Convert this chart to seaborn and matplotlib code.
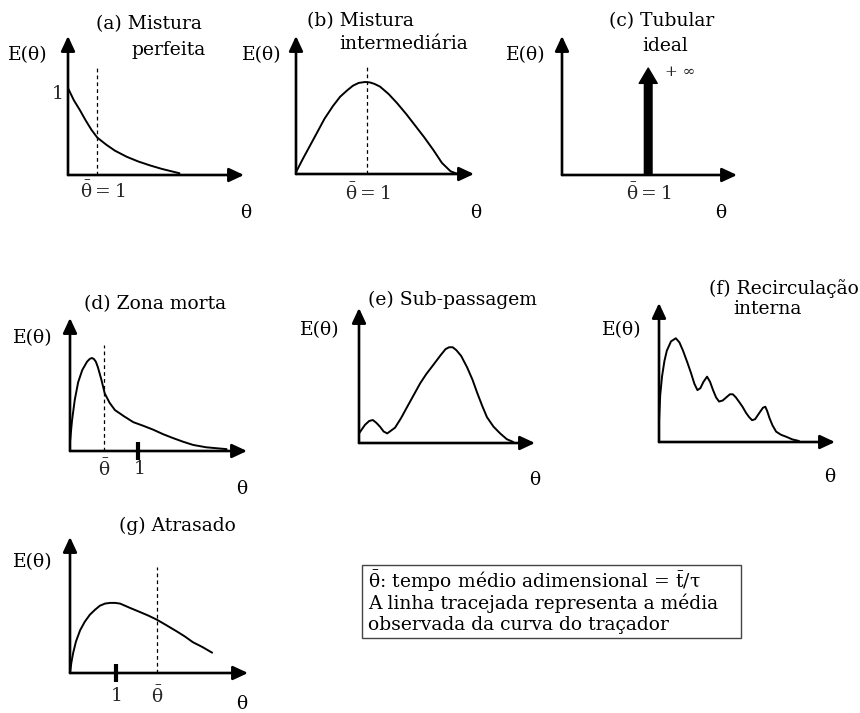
import matplotlib
matplotlib.use("Agg")
import matplotlib.pyplot as plt
from matplotlib.patches import Rectangle
import pandas as pd
import seaborn as sns

# ---- residence-time distribution curves E(theta) ----
theta_a = [0.0, 0.2, 0.4, 0.6, 0.8, 1.0, 1.3, 1.6, 2.0, 2.4, 2.8, 3.2, 3.5, 3.8]
e_a = [1.0, 0.86, 0.75, 0.63, 0.52, 0.43, 0.35, 0.28, 0.21, 0.155, 0.11, 0.07, 0.045, 0.02]

theta_b = [0.0, 0.1, 0.24, 0.4, 0.52, 0.62, 0.72, 0.8, 0.88, 0.97, 1.04, 1.1, 1.18, 1.3,
           1.42, 1.55, 1.65, 1.8, 1.93, 2.05, 2.17, 2.27]
e_b = [0.02, 0.17, 0.37, 0.6, 0.74, 0.84, 0.91, 0.96, 0.99, 1.0, 0.995, 0.98, 0.95, 0.87,
       0.77, 0.65, 0.55, 0.4, 0.26, 0.12, 0.03, 0.0]

spike_theta_c = 1.0
spike_height_c = 1.0

theta_d = [0.0, 0.03, 0.07, 0.12, 0.18, 0.25, 0.29, 0.32, 0.35, 0.38, 0.41, 0.46, 0.51,
           0.58, 0.66, 0.8, 0.93, 1.08, 1.22, 1.37, 1.51, 1.66, 1.81, 2.0, 2.3]
e_d = [0.1, 0.33, 0.55, 0.74, 0.87, 0.96, 0.99, 1.0, 0.99, 0.96, 0.9, 0.77, 0.62,
       0.52, 0.44, 0.37, 0.31, 0.27, 0.23, 0.18, 0.14, 0.1, 0.065, 0.04, 0.02]

theta_e = [0.0, 0.1, 0.17, 0.23, 0.29, 0.35, 0.41, 0.47, 0.6, 0.7, 0.8, 0.91, 1.02, 1.12,
           1.23, 1.35, 1.44, 1.5, 1.56, 1.62, 1.7, 1.8, 1.89, 1.97, 2.05, 2.13, 2.24, 2.35,
           2.46, 2.57]
e_e = [0.10, 0.19, 0.23, 0.24, 0.21, 0.17, 0.12, 0.10, 0.16, 0.26, 0.375, 0.5, 0.625, 0.72,
       0.81, 0.91, 0.98, 1.0, 1.0, 0.97, 0.91, 0.79, 0.66, 0.52, 0.39, 0.27, 0.17, 0.10,
       0.04, 0.01]

theta_f = [0.0, 0.02, 0.05, 0.09, 0.13, 0.2, 0.28, 0.34, 0.4, 0.47, 0.53, 0.59, 0.64, 0.69,
           0.74, 0.8, 0.85, 0.9, 0.95, 1.0, 1.06, 1.12, 1.18, 1.23, 1.28, 1.33, 1.39, 1.45,
           1.5, 1.55, 1.6, 1.67, 1.73, 1.77, 1.8, 1.84, 1.89, 1.95, 2.03, 2.12, 2.22, 2.33]
e_f = [0.2, 0.45, 0.63, 0.78, 0.88, 0.97, 1.0, 0.96, 0.88, 0.77, 0.67, 0.56, 0.5, 0.52,
       0.58, 0.63, 0.58, 0.5, 0.43, 0.39, 0.4, 0.43, 0.46, 0.46, 0.43, 0.39, 0.34, 0.28,
       0.24, 0.21, 0.22, 0.28, 0.33, 0.34, 0.3, 0.23, 0.16, 0.1, 0.07, 0.05, 0.025, 0.01]

theta_g = [0.0, 0.03, 0.07, 0.13, 0.22, 0.32, 0.43, 0.54, 0.65, 0.76, 0.87, 0.98, 1.09,
           1.3, 1.52, 1.7, 1.89, 2.1, 2.33, 2.5, 2.67, 2.88, 3.09]
e_g = [0.0, 0.15, 0.29, 0.45, 0.61, 0.73, 0.83, 0.9, 0.96, 0.99, 1.0, 1.0, 0.99,
       0.93, 0.87, 0.82, 0.76, 0.68, 0.59, 0.52, 0.44, 0.37, 0.29]

# observed mean (dashed line) and its height
mean_a, mean_top_a = 1.0, 1.24
mean_b, mean_top_b = 1.0, 1.18
mean_d, mean_top_d = 0.5, 1.14
mean_g, mean_top_g = 1.89, 1.51

titles = {
    "a": ["(a) Mistura", "perfeita"],
    "b": ["(b) Mistura", "intermediária"],
    "c": ["(c) Tubular", "ideal"],
    "d": ["(d) Zona morta"],
    "e": ["(e) Sub-passagem"],
    "f": ["(f) Recirculação", "interna"],
    "g": ["(g) Atrasado"],
}
TB = r"\bar{\mathrm{\theta}}"
note_lines = [
    rf"${TB}$: tempo médio adimensional = $\bar{{\mathrm{{t}}}}/\mathrm{{\tau}}$",
    "A linha tracejada representa a média",
    "observada da curva do traçador",
]

sns.set_theme(style="white")
plt.rcParams["font.family"] = ["DejaVu Serif"]
plt.rcParams["mathtext.fontset"] = "dejavuserif"

W, H = 860, 713
FS = 13.5
fig = plt.figure(figsize=(W / 100, H / 100), dpi=100)


def ftext(x, y, s, **kw):
    kw.setdefault("ha", "center")
    kw.setdefault("va", "center")
    kw.setdefault("fontsize", FS)
    fig.text(x / W, 1 - y / H, s, color="black", **kw)


def panel(left, top, right, bottom, xlim, ylim):
    ax = fig.add_axes([left / W, 1 - bottom / H, (right - left) / W, (bottom - top) / H])
    ax.set_xlim(*xlim)
    ax.set_ylim(*ylim)
    ax.axis("off")
    arrow = dict(arrowstyle="-|>,head_length=0.6,head_width=0.28", color="black",
                 lw=1.9, mutation_scale=15, shrinkA=0, shrinkB=0)
    ax.annotate("", xy=(0, 1), xytext=(0, 0), xycoords="axes fraction", arrowprops=arrow)
    ax.annotate("", xy=(1, 0), xytext=(0, 0), xycoords="axes fraction", arrowprops=arrow)
    return ax


def curve(ax, th, e):
    df = pd.DataFrame({"theta": th, "E": e})
    sns.lineplot(data=df, x="theta", y="E", ax=ax, color="black", lw=1.4,
                 estimator=None, sort=False, legend=False)
    ax.axis("off")


def mean_line(ax, m, top):
    ax.vlines(m, 0, top, colors="black", lw=0.9, linestyles=(0, (3, 2.5)))


def below(ax, x, s, dx=0, dy=-17):
    ax.annotate(s, xy=(x, 0), xytext=(dx, dy), textcoords="offset pixels",
                ha="center", va="center", fontsize=FS)


def unit_tick(ax, x):
    ax.plot([x], [0], marker="|", markersize=13, mew=3, color="black", clip_on=False)


# (a) perfect mixing
ax = panel(68, 36, 244, 175, (0, 6.0), (0, 1.6))
curve(ax, theta_a, e_a)
mean_line(ax, mean_a, mean_top_a)
ax.annotate("1", xy=(0, 1.0), xytext=(-10, -6), textcoords="offset pixels",
            ha="center", va="center", fontsize=FS)
below(ax, mean_a, rf"${TB}=1$", dx=5, dy=-16)
ftext(149, 24, titles["a"][0])
ftext(169, 50, titles["a"][1])
ftext(28, 55, "E(θ)")
ftext(246, 213, "θ")

# (b) intermediate mixing
ax = panel(296, 36, 474, 174, (0, 2.5), (0, 1.5))
curve(ax, theta_b, e_b)
mean_line(ax, mean_b, mean_top_b)
below(ax, mean_b, rf"${TB}=1$", dy=-19)
ftext(360, 21, titles["b"][0])
ftext(404, 44, titles["b"][1])
ftext(262, 55, "E(θ)")
ftext(476, 213, "θ")

# (c) ideal plug flow
ax = panel(562, 36, 737, 175, (0, 2.03), (0, 1.3))
ax.annotate("", xy=(spike_theta_c, spike_height_c), xytext=(spike_theta_c, 0),
            arrowprops=dict(width=5.5, headwidth=13, headlength=11, color="black",
                            shrink=0))
ax.annotate("+ ∞", xy=(spike_theta_c, spike_height_c), xytext=(32, -4),
            textcoords="offset pixels", ha="center", va="center", fontsize=11)
below(ax, spike_theta_c, rf"${TB}=1$", dy=-18)
ftext(662, 21, titles["c"][0])
ftext(665, 46, titles["c"][1])
ftext(526, 55, "E(θ)")
ftext(721, 213, "θ")

# (d) dead zone
ax = panel(70, 318, 247, 451, (0, 2.6), (0, 1.43))
curve(ax, theta_d, e_d)
mean_line(ax, mean_d, mean_top_d)
unit_tick(ax, 1.0)
below(ax, mean_d, rf"${TB}$", dy=-18)
below(ax, 1.0, "1", dx=2, dy=-18)
ftext(155, 304, titles["d"][0])
ftext(33, 338, "E(θ)")
ftext(242, 489, "θ")

# (e) short-circuiting
ax = panel(359, 308, 535, 443, (0, 2.93), (0, 1.41))
curve(ax, theta_e, e_e)
ftext(452, 300, titles["e"][0])
ftext(320, 330, "E(θ)")
ftext(535, 480, "θ")

# (f) internal recirculation
ax = panel(659, 303, 835, 442, (0, 2.93), (0, 1.34))
curve(ax, theta_f, e_f)
ftext(859, 289, titles["f"][0], ha="right")
ftext(767, 309, titles["f"][1])
ftext(622, 330, "E(θ)")
ftext(830, 477, "θ")

# (g) delayed
ax = panel(70, 537, 248, 673, (0, 3.87), (0, 1.94))
curve(ax, theta_g, e_g)
mean_line(ax, mean_g, mean_top_g)
unit_tick(ax, 1.0)
below(ax, 1.0, "1", dx=1, dy=-23)
below(ax, mean_g, rf"${TB}$", dy=-23)
ftext(177, 526, titles["g"][0])
ftext(33, 562, "E(θ)")
ftext(242, 704, "θ")

# explanatory note
fig.patches.append(Rectangle((362 / W, 1 - 638 / H), (741 - 362) / W, (638 - 565) / H,
                             transform=fig.transFigure, fill=False,
                             edgecolor="#444444", lw=1.0))
for i, line in enumerate(note_lines):
    ftext(368, 581 + 22 * i, line, ha="left")

fig.savefig("out.png", dpi=100, facecolor="white")
